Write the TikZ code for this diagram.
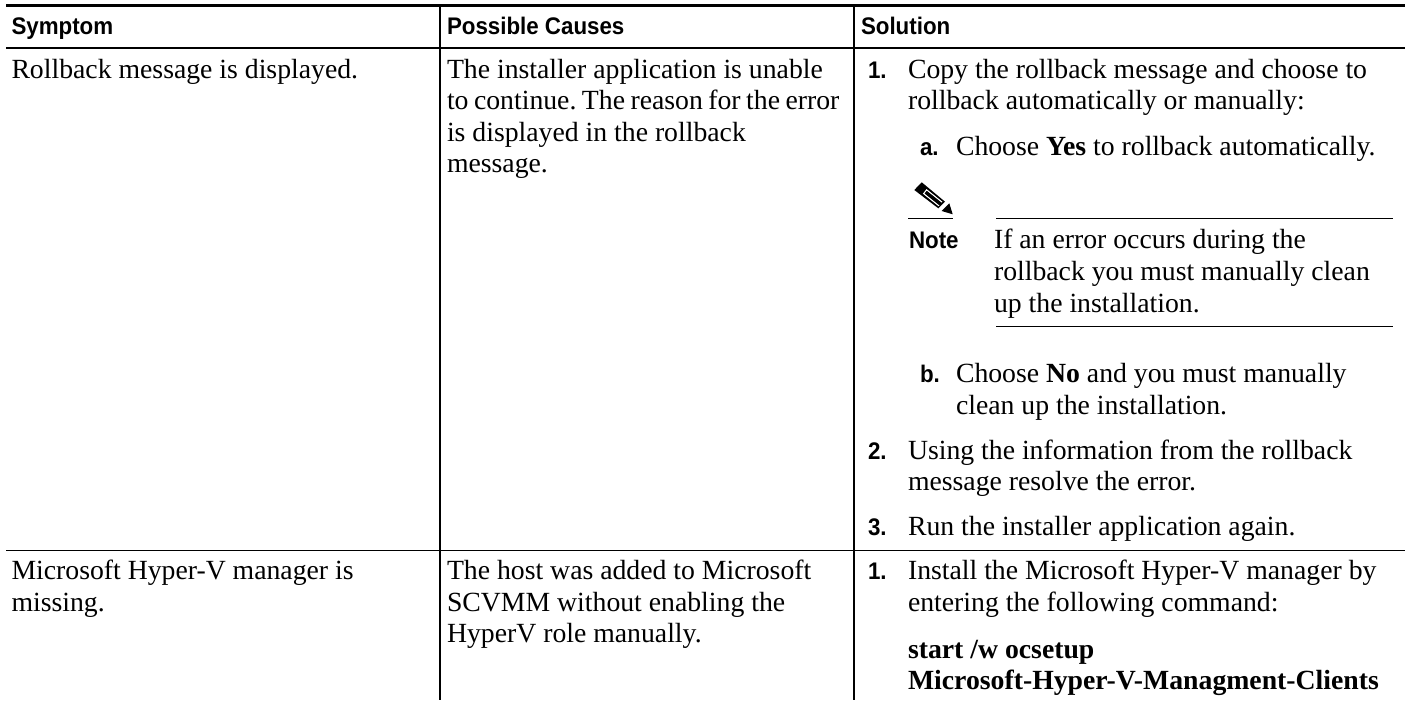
\documentclass[tikz,border=0pt]{standalone}
\usepackage{fontspec}
\setmainfont{Liberation Serif}
\newfontfamily\hd{Liberation Sans}[FakeStretch=0.93,BoldFont={Liberation Sans Bold}]
\frenchspacing
\begin{document}
\begin{tikzpicture}[x=0.75pt,y=-0.75pt,
  body/.style={anchor=base west,inner sep=0pt,outer sep=0pt,yshift=-1.1pt,font=\fontsize{20.8}{24}\selectfont},
  head/.style={anchor=base west,inner sep=0pt,outer sep=0pt,yshift=-0.8pt,font=\fontsize{18}{22}\hd\bfseries},
  rulethin/.style={line width=1pt,black}]
\useasboundingbox (0,0) rectangle (1405,700);
\draw[line width=2.1pt] (6,5.4) -- (1405,5.4);
\draw[rulethin] (6,48) -- (1405,48);
\draw[rulethin] (6,550.5) -- (1405,550.5);
\draw[rulethin] (440,6) -- (440,700);
\draw[rulethin] (854,6) -- (854,700);
\node[head] (h1) at (11.5,33) {Symptom};
\node[head] (h2) at (447,33) {Possible Causes};
\node[head] (h3) at (861,33) {Solution};
\node[body] (s1) at (11.5,77) {Rollback message is displayed.};
\node[body] (c1) at (447,77) {The installer application is unable};
\node[body] (c2) at (447,108) {\spaceskip=4.1pt to continue. The reason for the error};
\node[body] (c3) at (447,140) {is displayed in the rollback};
\node[body] (c4) at (447,171) {message.};
\node[head] (n1) at (868,77) {1.};
\node[body] (l1) at (908,77) {Copy the rollback message and choose to};
\node[body] (l2) at (908,108) {rollback automatically or manually:};
\node[head] (na) at (920,154) {a.};
\node[body] (l3) at (956,154) {Choose \textbf{Yes} to rollback automatically.};
% note icon
\fill (921.7,182.3) -- (914.3,190) -- (938.3,208.3) -- (945,201.7) -- cycle;
\draw[white,line width=0.8pt] (942,202.1) -- (926.6,189.8) -- (923.6,193.6) -- (939,205.9);
\fill (949.3,203.3) -- (941.7,211) -- (952.7,214.3) -- cycle;
\draw[line width=1.1pt] (908,218.5) -- (953,218.5);
\node[head] (nt) at (909,247) {Note};
\draw[rulethin] (996,218.7) -- (1393,218.7);
\draw[rulethin] (996,326.3) -- (1393,326.3);
\node[body] (t1) at (994,247) {If an error occurs during the};
\node[body] (t2) at (994,279) {rollback you must manually clean};
\node[body] (t3) at (994,311) {up the installation.};
\node[head] (nb) at (920,381) {b.};
\node[body] (l4) at (956,381) {Choose \textbf{No} and you must manually};
\node[body] (l5) at (956,413) {clean up the installation.};
\node[head] (n2) at (868,458) {2.};
\node[body] (l6) at (908,458) {Using the information from the rollback};
\node[body] (l7) at (908,489) {message resolve the error.};
\node[head] (n3) at (868,534) {3.};
\node[body] (l8) at (908,534) {Run the installer application again.};
\node[body] (s2) at (11.5,578) {Microsoft Hyper-V manager is};
\node[body] (s3) at (11.5,610) {missing.};
\node[body] (c5) at (447,578) {The host was added to Microsoft};
\node[body] (c6) at (447,610) {SCVMM without enabling the};
\node[body] (c7) at (447,641) {HyperV role manually.};
\node[head] (n4) at (868,578) {1.};
\node[body] (m1) at (908,578) {Install the Microsoft Hyper-V manager by};
\node[body] (m2) at (908,610) {entering the following command:};
\node[body] (m3) at (908,657) {\textbf{start /w ocsetup}};
\node[body] (m4) at (908,688) {\textbf{Microsoft-Hyper-V-Managment-Clients}};
\end{tikzpicture}
\end{document}
